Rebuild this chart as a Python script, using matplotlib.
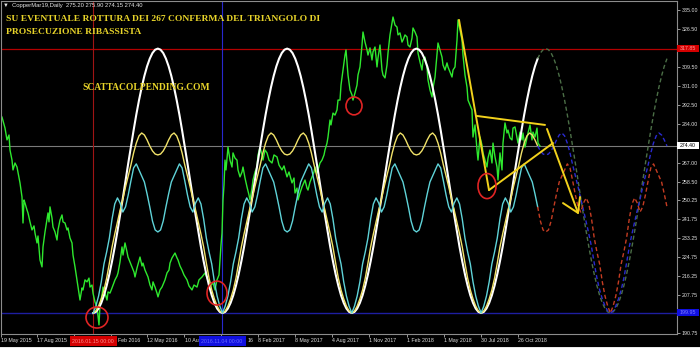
import numpy as np
import matplotlib
matplotlib.use("Agg")
import matplotlib.pyplot as plt
from matplotlib.patches import Ellipse, Rectangle
from matplotlib.transforms import blended_transform_factory

plt.rcParams['font.family'] = ['Liberation Sans', 'DejaVu Sans']

# ---------------- data ----------------
price_bar = [2,5,7,9,10,12,13,15,17,19,20,22,23,24,25,27,28,30,32,34,35,37,38,40,42,43,45,48,49,50,
             52,53,55,57,58,60,62,63,65,67,68,70,72,73,75,77,78,80,82,83,85,87,89,90,92,93,95,97,99,100,
             102,103,105,107,108,110,112,115,117,118,120,122,123,125,127,128,130,132,134,135,137,140,142,143,145,148,150,152,153,155,
             157,158,160,162,165,167,169,170,172,175,177,178,180,182,184,187,189,192,194,197,199,202,205,207,208,210,213,215,217,219,
             220,221,222,223,224,225,226,228,230,232,233,235,237,238,240,242,243,245,247,249,250,252,253,255,257,258,260,262,263,265,
             267,269,272,274,277,279,282,284,287,289,292,294,295,297,298,300,302,305,307,308,310,312,314,315,317,318,320,322,324,325,
             327,328,330,331,333,335,337,338,340,341,343,345,346,347,348,350,352,353,355,357,358,360,362,363,365,367,368,370,372,373,
             375,377,378,380,382,383,385,387,388,390,392,393,395,397,398,400,402,403,405,407,408,410,412,413,415,417,418,420,422,423,
             425,427,428,430,432,433,435,437,438,440,442,443,445,447,448,450,452,453,455,457,458,460,462,463,465,467,468,470,472,473,
             475,477,478,480,482,483,485,487,488,490,492,493,495,497,498,500,502,503,505,507,508,510,512,513,515,517,518,520,522,523,
             525,527,528,530,532,533,535,537,538,540]
price_close = [287.3,282.4,277.1,279.3,272.6,268.1,263.7,266.8,265.0,260.1,257.9,251.6,240.0,250.3,248.9,245.8,244.5,240.5,236.9,238.7,
               235.5,231.1,234.2,223.5,220.4,229.3,236.0,244.5,240.5,247.2,242.2,238.2,236.0,232.4,236.9,241.3,243.6,240.5,240.0,236.9,
               237.8,233.3,231.1,225.7,220.4,214.6,211.4,205.6,211.0,210.1,214.6,213.7,215.4,211.4,212.3,208.7,204.7,202.5,194.5,203.4,
               207.9,211.4,208.7,205.6,209.2,208.7,211.0,214.6,216.3,217.7,222.6,229.3,225.7,231.1,227.1,224.8,222.6,220.4,218.1,215.9,
               219.9,224.8,220.8,222.1,219.0,215.9,212.3,210.1,213.7,211.4,208.7,207.0,210.1,211.4,214.6,217.7,219.0,222.1,224.4,226.6,
               224.4,223.5,220.8,219.0,216.8,214.6,211.9,210.1,212.3,211.4,214.6,215.9,217.7,215.4,214.6,211.9,213.2,210.1,214.6,216.8,
               223.5,230.2,235.5,250.3,257.0,268.1,263.7,273.9,268.1,265.0,271.3,269.0,268.1,263.7,260.6,262.8,265.0,260.1,256.1,252.5,
               250.3,255.6,259.2,262.8,265.0,270.4,273.9,270.4,268.1,272.6,271.3,268.1,266.8,270.4,269.5,265.9,263.7,265.5,260.6,262.8,
               257.9,260.1,253.4,255.6,250.3,253.4,256.1,259.2,255.6,254.7,258.3,260.6,262.8,265.0,262.3,263.7,266.8,268.1,270.4,272.6,
               275.7,278.4,286.0,283.8,289.1,288.2,290.5,294.9,294.9,301.6,308.3,315.0,317.3,311.9,306.1,299.4,297.2,294.9,298.1,301.6,
               306.1,309.7,319.5,325.3,320.8,317.3,315.0,318.2,312.8,316.4,318.6,309.7,313.7,319.5,308.3,306.1,304.8,310.6,315.9,324.0,
               329.3,332.0,328.4,327.5,324.0,324.9,320.8,321.7,324.0,323.1,319.5,318.6,322.6,327.1,325.3,323.1,315.9,311.9,308.3,312.8,
               314.1,309.2,303.9,299.4,296.3,300.3,305.2,315.0,320.4,317.3,314.1,310.6,308.3,311.5,309.7,307.4,305.2,308.3,309.7,321.7,
               330.7,326.2,321.7,315.0,306.1,300.7,294.9,292.7,290.5,278.4,283.8,272.6,268.1,278.4,274.8,271.3,268.1,265.0,269.0,272.6,
               266.8,275.7,269.5,265.0,259.2,271.3,263.7,275.7,284.7,280.2,281.5,278.0,277.1,282.4,282.9,278.0,275.7,280.6,277.1,280.2,
               273.9,278.0,280.2,283.8,277.1,280.6,278.4,282.4,275.7,274.4]

# cycle indicator (one half cycle, trough -> crest, 25 samples; the cycle is symmetric and periodic)
cycle_start_bar = 93.2
cycle_period_bars = 129.3
current_bar = 540
projection_end_bar = 669
white_half = [199.8,200.3,201.8,204.3,207.7,212.0,217.1,222.9,229.3,236.3,243.6,251.1,258.9,
              266.6,274.1,281.4,288.4,294.8,300.6,305.7,310.0,313.4,315.9,317.4,317.9]
yellow_half = [199.8,200.7,202.9,206.1,210.1,215.4,222.1,229.3,235.1,240.5,245.8,250.7,256.1,
               261.0,265.9,271.3,275.7,278.9,280.2,279.3,277.1,274.4,272.2,270.8,270.4]
cyan_half = [199.8,202.9,207.4,213.7,221.7,227.1,233.3,241.8,248.5,251.2,248.9,244.9,247.2,
             252.5,258.8,264.6,266.4,263.7,261.0,258.3,253.0,247.2,240.9,236.9,236.0]

resistance_level = 317.85
last_price = 274.40
support_level = 199.95
red_marker_bar = 93
blue_marker_bar = 222

drop_bar, drop_price = [459, 489], [330.7, 254.7]
upper_bar, upper_price = [477, 545], [287.8, 283.8]
lower_bar, lower_price = [489, 553], [254.7, 275.7]
arrow_bar, arrow_price = [547, 578], [282.0, 244.5]
head_bar, head_price = [563, 578, 580], [248.9, 244.5, 251.6]

circle_bar = [97, 217, 354, 487]
circle_price = [197.8, 208.7, 292.3, 256.5]
circle_w_bars = [22, 20, 16, 18]
circle_h_price = [9.4, 10.7, 8.0, 11.2]

# price-axis labels (318.00 and 199.25 sit under the level boxes)
ytick_values = [335.00, 326.50, 318.00, 309.50, 301.00, 292.50, 284.00, 275.50, 267.00, 258.50,
                250.25, 241.75, 233.25, 224.75, 216.25, 207.75, 199.25, 190.75]
ytick_hidden = [318.00, 199.25]
# time-axis labels ('' = covered by a date box; partial remnants are listed separately)
xtick_bars = [1, 37, 74, 111, 147, 184, 221, 258, 295, 332, 369, 407, 444, 481, 518]
xtick_labels = ["19 May 2015", "17 Aug 2015", "", "", "12 May 2016", "",
                "", "8 Feb 2017", "8 May 2017", "4 Aug 2017", "1 Nov 2017", "1 Feb 2018",
                "1 May 2018", "30 Jul 2018", "26 Oct 2018"]
partial_label_bars = [118, 185, 248]
partial_labels = ["Feb 2016", "10 Au", "16"]

header = "\u25BC  CopperMar19,Daily  275.20 275.90 274.15 274.40"
title1 = "SU EVENTUALE ROTTURA DEI 267 CONFERMA DEL TRIANGOLO DI"
title2 = "PROSECUZIONE RIBASSISTA"
site = "SCATTACOLPENDING.COM"
red_date = "2016.01.15 00:00"
blue_date = "2016.11.04 00:00"

# ---------------- figure ----------------
W, H = 700, 348
fig = plt.figure(figsize=(W / 100, H / 100), dpi=100, facecolor='black')
ax = fig.add_axes([0.5 / W, 1 - 333.5 / H, 676 / W, 332.5 / H], facecolor='black')
ax.set_xlim(0.5, 676.5)
ax.set_ylim(190.65, 339.15)

for s in ax.spines.values():
    s.set_color('#8c8c8c')
    s.set_linewidth(0.8)

# reference lines
ax.axhline(resistance_level, color='#b40000', lw=0.9, zorder=1)
ax.axhline(last_price, color='#7a7a7a', lw=0.8, zorder=1)
ax.axhline(support_level, color='#1e1ea0', lw=1.0, zorder=1)
ax.axvline(red_marker_bar, color='#a01414', lw=0.8, zorder=1)
ax.axvline(blue_marker_bar, color='#2828d0', lw=0.8, zorder=1)

# price
ax.plot(price_bar, price_close, color='#2ee82e', lw=1.0, zorder=2)

# cycles
def full_cycle(half):
    return list(half) + list(half[-2:0:-1])

n = int((projection_end_bar - cycle_start_bar) / (cycle_period_bars / 48)) + 1
cx = cycle_start_bar + np.arange(n) * cycle_period_bars / 48
solid = cx <= current_bar
isplit = np.nonzero(solid)[0][-1]
for half, c_solid, c_dash, lw in [(white_half, '#ffffff', '#4b6e46', 1.5),
                                  (yellow_half, '#f2e36a', '#2a2ad0', 1.0),
                                  (cyan_half, '#5fd3d8', '#c43c22', 1.0)]:
    cy = np.resize(np.array(full_cycle(half)), n)
    ax.plot(cx[:isplit + 1], cy[:isplit + 1], color=c_solid, lw=lw, zorder=3)
    ax.plot(cx[isplit:], cy[isplit:], color=c_dash, lw=1.0, ls=(0, (3, 2)), zorder=3)

# triangle + arrow
tri = dict(color='#f2d21c', lw=1.4, zorder=5, solid_capstyle='round')
ax.plot(drop_bar, drop_price, **tri)
ax.plot(upper_bar, upper_price, **tri)
ax.plot(lower_bar, lower_price, **tri)
ax.plot(arrow_bar, arrow_price, **tri)
ax.plot(head_bar, head_price, **tri)

# circles
for b, p, w, h in zip(circle_bar, circle_price, circle_w_bars, circle_h_price):
    ax.add_patch(Ellipse((b, p), w, h, fill=False, edgecolor='#e02424', lw=1.2, zorder=6))

# texts
gold = '#e8d42a'
ax.text(6, 330.4, title1, family='Liberation Serif', weight='bold', fontsize=6.8, color=gold,
        ha='left', va='baseline', zorder=7)
ax.text(6, 324.4, title2, family='Liberation Serif', weight='bold', fontsize=6.8, color=gold,
        ha='left', va='baseline', zorder=7)
ax.text(82, 299.4, site, family='Liberation Serif', weight='bold', fontsize=6.85, color=gold,
        ha='left', va='baseline', zorder=7)
fig.text(3 / W, 1 - 5 / H, header, fontsize=4.2, color='#e6e6e6', ha='left', va='center')

# axes ticks
ax.yaxis.tick_right()
ax.set_yticks(ytick_values)
ax.set_yticklabels(["" if v in ytick_hidden else f"{v:.2f}" for v in ytick_values])
ax.tick_params(axis='y', direction='out', length=2, width=0.6, colors='#b0b0b0',
               labelcolor='#e0e0e0', labelsize=3.8, pad=1.5)
ax.set_xticks(xtick_bars)
ax.set_xticklabels(xtick_labels, ha='left')
ax.tick_params(axis='x', direction='out', length=2, width=0.6, colors='#b0b0b0',
               labelcolor='#e0e0e0', labelsize=3.8, pad=1.5)

tr_x = blended_transform_factory(ax.transData, ax.transAxes)
for b, t in zip(partial_label_bars, partial_labels):
    ax.text(b, -0.0215, t, transform=tr_x, fontsize=3.8, color='#e0e0e0', ha='left',
            va='center', clip_on=False)

# price boxes on the right axis
tr_y = blended_transform_factory(ax.transAxes, ax.transData)
bw = 22 / 676
bh = 7 / 2.239
for val, fc, tc in [(resistance_level, '#d40000', '#ff9a9a'),
                    (last_price, '#ffffff', '#000000'),
                    (support_level, '#1010e0', '#7f7fff')]:
    ax.add_patch(Rectangle((1.0007, val - bh / 2), bw, bh, transform=tr_y, facecolor=fc,
                           edgecolor='none', clip_on=False, zorder=20))
    ax.text(1.0007 + bw / 2, val, f"{val:.2f}", transform=tr_y, fontsize=3.8, color=tc,
            ha='center', va='center', clip_on=False, zorder=21)

# date boxes on the time axis
for bar, txt, fc, tc in [(red_marker_bar, red_date, '#d40000', '#ff8c8c'),
                         (blue_marker_bar, blue_date, '#1010e0', '#6a6aff')]:
    ax.add_patch(Rectangle((bar - 23, -0.0376), 47, 0.030, transform=tr_x, facecolor=fc,
                           edgecolor='none', clip_on=False, zorder=20))
    ax.text(bar, -0.0226, txt, transform=tr_x, fontsize=3.8, color=tc, ha='center', va='center',
            clip_on=False, zorder=21)

# thin light strip at the very bottom of the window
fig.patches.append(Rectangle((0, 0), 1, 1.5 / H, transform=fig.transFigure, facecolor='#e8e8e8',
                             edgecolor='none'))

fig.savefig('out.png', dpi=100, facecolor='black')
